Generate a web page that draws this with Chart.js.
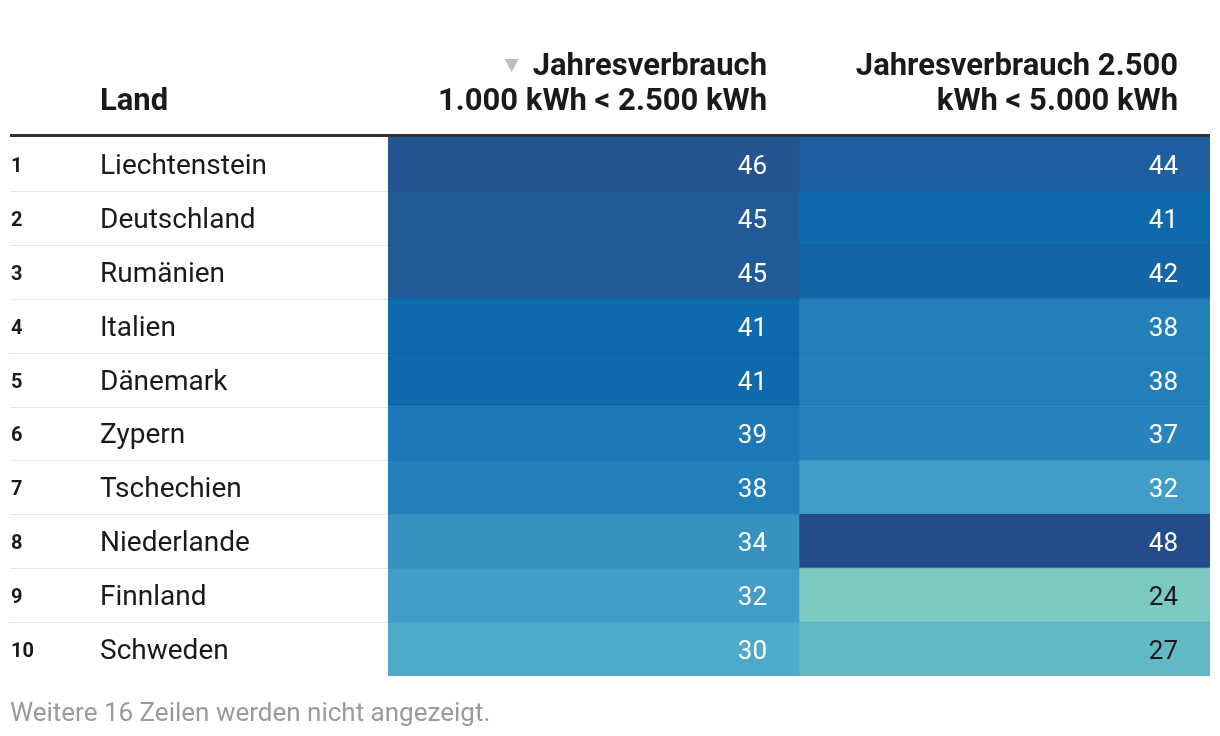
<!DOCTYPE html>
<html lang="de">
<head>
<meta charset="utf-8">
<title>Jahresverbrauch Tabelle</title>
<script src="https://cdn.jsdelivr.net/npm/chart.js@4/dist/chart.umd.min.js"></script>
<style>
  html, body { margin: 0; padding: 0; background: #fff; }
  #wrap { width: 1220px; height: 736px; }
</style>
</head>
<body>
<div id="wrap"><canvas id="table" width="1220" height="736"></canvas></div>
<script>
/* ===============================
   DATA
================================ */
const countries = [
  "Liechtenstein", "Deutschland", "Rumänien", "Italien", "Dänemark",
  "Zypern", "Tschechien", "Niederlande", "Finnland", "Schweden"
];
const verbrauchKlein = [46, 45, 45, 41, 41, 39, 38, 34, 32, 30];   // 1.000 < 2.500 kWh
const verbrauchMittel = [44, 41, 42, 38, 38, 37, 32, 48, 24, 27];  // 2.500 < 5.000 kWh
const columnHeads = [
  ["Jahresverbrauch", "1.000 kWh < 2.500 kWh"],
  ["Jahresverbrauch 2.500", "kWh < 5.000 kWh"]
];
const firstHead = "Land";
const footNote = "Weitere 16 Zeilen werden nicht angezeigt.";

/* ===============================
   COLOUR SCALE
================================ */
const colorStops = [
  [24, [123, 202, 194]],
  [27, [99, 184, 198]],
  [30, [78, 169, 202]],
  [32, [65, 157, 199]],
  [34, [56, 146, 193]],
  [38, [35, 127, 186]],
  [41, [15, 106, 173]],
  [44, [29, 95, 160]],
  [46, [36, 84, 146]],
  [48, [36, 75, 139]]
];

function heatColor(v) {
  if (v <= colorStops[0][0]) return `rgb(${colorStops[0][1].join(",")})`;
  for (let i = 1; i < colorStops.length; i++) {
    const [v1, c1] = colorStops[i];
    const [v0, c0] = colorStops[i - 1];
    if (v <= v1) {
      const t = (v - v0) / (v1 - v0);
      const c = c0.map((x, k) => Math.round(x + (c1[k] - x) * t));
      return `rgb(${c.join(",")})`;
    }
  }
  return `rgb(${colorStops[colorStops.length - 1][1].join(",")})`;
}

const FONT = "Roboto, 'Noto Sans', sans-serif";

/* ===============================
   TABLE TEXT PLUGIN
================================ */
const tableText = {
  id: "tableText",
  afterDatasetsDraw(chart) {
    const { ctx, chartArea, scales } = chart;
    const y = scales.y;
    const x = scales.x;
    const rowH = y.getPixelForValue(1) - y.getPixelForValue(0);
    const left = 10;

    ctx.save();

    // row separators
    for (let i = 0; i < countries.length - 1; i++) {
      const yy = Math.round(y.getPixelForValue(i) + rowH / 2) + 0.5;
      ctx.strokeStyle = "#e6e6e6";
      ctx.lineWidth = 1;
      ctx.beginPath();
      ctx.moveTo(left, yy);
      ctx.lineTo(chartArea.left, yy);
      ctx.stroke();
      ctx.strokeStyle = "rgba(0,0,0,0.05)";
      ctx.beginPath();
      ctx.moveTo(chartArea.left, yy);
      ctx.lineTo(chartArea.right, yy);
      ctx.stroke();
    }

    // header rule
    ctx.fillStyle = "#333";
    ctx.fillRect(left, chartArea.top - 3, chartArea.right - left, 3);

    // rows
    ctx.textBaseline = "alphabetic";
    countries.forEach((name, i) => {
      const cy = y.getPixelForValue(i);
      ctx.fillStyle = "#1a1a1a";
      ctx.textAlign = "left";
      ctx.font = `bold 20px ${FONT}`;
      ctx.fillText(String(i + 1), left + 1, cy + 8);
      ctx.font = `28px ${FONT}`;
      ctx.fillText(name, 100, cy + 10);

      [verbrauchKlein, verbrauchMittel].forEach((vals, c) => {
        const v = vals[i];
        const rx = x.getPixelForValue(c + 1) - 32;
        ctx.font = `26px ${FONT}`;
        ctx.textAlign = "right";
        ctx.fillStyle = v < 30 ? "#1a1a1a" : "#ffffff";
        ctx.fillText(String(v), rx, cy + 10);
      });
    });

    // headers
    ctx.fillStyle = "#1a1a1a";
    ctx.font = `bold 31px ${FONT}`;
    ctx.textAlign = "left";
    ctx.fillText(firstHead, 100, 110);
    ctx.textAlign = "right";
    columnHeads.forEach((lines, c) => {
      const rx = x.getPixelForValue(c + 1) - 32;
      ctx.fillText(lines[0], rx, 75);
      ctx.fillText(lines[1], rx, 110);
    });

    // sort marker
    const w0 = ctx.measureText(columnHeads[0][0]).width;
    const tx = x.getPixelForValue(1) - 32 - w0 - 21;
    ctx.fillStyle = "#bdbdbd";
    ctx.beginPath();
    ctx.moveTo(tx - 7, 59);
    ctx.lineTo(tx + 7, 59);
    ctx.lineTo(tx, 72);
    ctx.closePath();
    ctx.fill();

    // footnote
    ctx.textAlign = "left";
    ctx.fillStyle = "#9a9a9a";
    ctx.font = `26px ${FONT}`;
    ctx.fillText(footNote, left, 721);

    ctx.restore();
  }
};

/* ===============================
   CHART
================================ */
function buildChart() {
  const canvas = document.getElementById("table");
  new Chart(canvas.getContext("2d"), {
    type: "bar",
    data: {
      labels: countries,
      datasets: [
        {
          label: columnHeads[0].join(" "),
          data: verbrauchKlein.map(() => [0, 1]),
          backgroundColor: verbrauchKlein.map(heatColor)
        },
        {
          label: columnHeads[1].join(" "),
          data: verbrauchMittel.map(() => [1, 2]),
          backgroundColor: verbrauchMittel.map(heatColor)
        }
      ]
    },
    options: {
      indexAxis: "y",
      responsive: false,
      animation: false,
      layout: { padding: { left: 388, right: 10, top: 137, bottom: 60 } },
      datasets: {
        bar: {
          grouped: false,
          barPercentage: 1,
          categoryPercentage: 1,
          borderWidth: 0,
          borderSkipped: false
        }
      },
      plugins: {
        legend: { display: false },
        tooltip: { enabled: false }
      },
      scales: {
        x: { type: "linear", min: 0, max: 2, display: false },
        y: { type: "category", display: false, offset: true }
      }
    },
    plugins: [tableText]
  });
}

Promise.all([
  document.fonts.load(`28px Roboto`),
  document.fonts.load(`bold 28px Roboto`)
]).then(buildChart, buildChart);
</script>
</body>
</html>
